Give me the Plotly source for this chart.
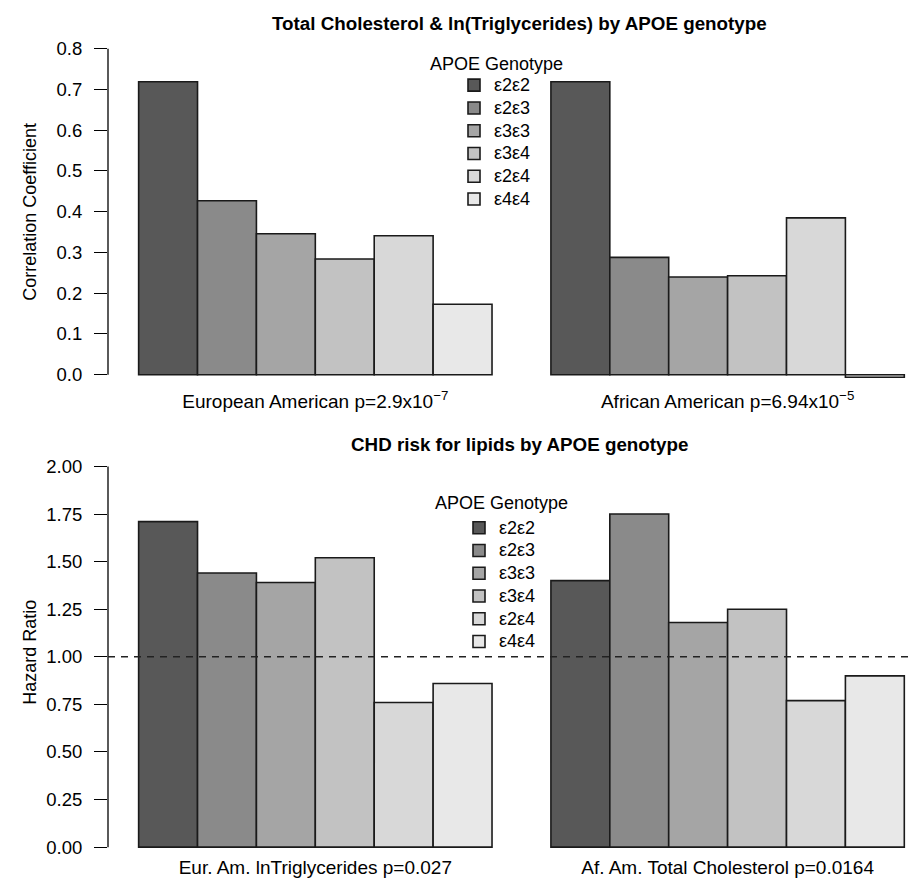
import plotly.graph_objects as go

# ---------------- data ----------------
genotypes = ["ε2ε2", "ε2ε3", "ε3ε3", "ε3ε4", "ε2ε4", "ε4ε4"]
bar_colors = ["#585858", "#8a8a8a", "#a5a5a5", "#c2c2c2", "#d8d8d8", "#e8e8e8"]

top_title = "Total Cholesterol & ln(Triglycerides) by APOE genotype"
top_groups = ["European American p=2.9x10<sup>−7</sup>",
              "African American p=6.94x10<sup>−5</sup>"]
top_eur = [0.719, 0.427, 0.346, 0.284, 0.341, 0.173]
top_afr = [0.719, 0.288, 0.240, 0.243, 0.385, -0.006]
top_ticks = [0.0, 0.1, 0.2, 0.3, 0.4, 0.5, 0.6, 0.7, 0.8]
top_ylabel = "Correlation Coefficient"

bot_title = "CHD risk for lipids by APOE genotype"
bot_groups = ["Eur. Am. lnTriglycerides p=0.027",
              "Af. Am. Total Cholesterol p=0.0164"]
bot_eur = [1.71, 1.44, 1.39, 1.52, 0.76, 0.86]
bot_afr = [1.40, 1.75, 1.18, 1.25, 0.77, 0.90]
bot_ticks = [0.0, 0.25, 0.5, 0.75, 1.0, 1.25, 1.5, 1.75, 2.0]
bot_ylabel = "Hazard Ratio"
hr_reference = 1.0

legend_title = "APOE Genotype"

# ---------------- figure ----------------
W, H = 918, 889
FONT = "Liberation Sans, Arial, Helvetica, sans-serif"
LEG_TXT = 18      # visible legend text size
LEG_ROW = 15.2    # size that sets legend row spacing

fig = go.Figure()
for i, g in enumerate(genotypes):
    fig.add_trace(go.Bar(
        x=top_groups, y=[top_eur[i], top_afr[i]],
        name=f'<span style="font-size:{LEG_TXT}px">{g}</span>',
        marker=dict(color=bar_colors[i], line=dict(color="#1a1a1a", width=1.6)),
        xaxis="x", yaxis="y", legend="legend", hoverinfo="x+y"))
for i, g in enumerate(genotypes):
    fig.add_trace(go.Bar(
        x=bot_groups, y=[bot_eur[i], bot_afr[i]],
        name=f'<span style="font-size:{LEG_TXT}px">{g}</span>',
        marker=dict(color=bar_colors[i], line=dict(color="#1a1a1a", width=1.6)),
        xaxis="x2", yaxis="y2", legend="legend2", hoverinfo="x+y"))

x_dom = [100 / W, 1.0]
x_rng = [-0.50286, 1.4812]
# pixel geometry (from top edge)
top_px = dict(zero=368.0, unit=409.0, top=27.7, bottom=381.1)
bot_px = dict(zero=842.0, unit=191.0, top=444.7, bottom=849.0)

def dom_rng(p):
    lo = -(p["bottom"] - p["zero"]) / p["unit"]
    hi = (p["zero"] - p["top"]) / p["unit"]
    return [1 - p["bottom"] / H, 1 - p["top"] / H], [lo, hi]

top_dom, top_rng = dom_rng(top_px)
bot_dom, bot_rng = dom_rng(bot_px)

common = dict(showgrid=False, zeroline=False, showline=False)
ytick = dict(ticks="outside", ticklen=13, tickwidth=1.3, tickcolor="black",
             ticklabelstandoff=8, tickfont=dict(size=18.5, color="black", family=FONT))
xtick = dict(ticks="", tickfont=dict(size=19, color="black", family=FONT))

fig.update_layout(
    width=W, height=H,
    margin=dict(l=0, r=0, t=0, b=0),
    paper_bgcolor="white", plot_bgcolor="white",
    font=dict(family=FONT, color="black"),
    barmode="group", bargap=1 / 7, bargroupgap=0,
    xaxis=dict(domain=x_dom, range=x_rng, anchor="y", **common, **xtick),
    xaxis2=dict(domain=x_dom, range=x_rng, anchor="y2", **common, **xtick),
    yaxis=dict(domain=top_dom, range=top_rng, anchor="x",
               tickvals=top_ticks, ticktext=[f"{v:.1f}" for v in top_ticks],
               **common, **ytick),
    yaxis2=dict(domain=bot_dom, range=bot_rng, anchor="x2",
                tickvals=bot_ticks, ticktext=[f"{v:.2f}" for v in bot_ticks],
                **common, **ytick),
    legend=dict(x=446 / W, xanchor="left", y=1 - 61 / H, yanchor="top",
                bgcolor="rgba(0,0,0,0)", font=dict(size=LEG_ROW, family=FONT),
                tracegroupgap=0),
    legend2=dict(x=451 / W, xanchor="left", y=1 - 505 / H, yanchor="top",
                 bgcolor="rgba(0,0,0,0)", font=dict(size=LEG_ROW, family=FONT),
                 tracegroupgap=0),
    showlegend=True,
)

# y axis lines spanning first to last tick (R style)
fig.add_shape(type="line", xref="x domain", yref="y", x0=0, x1=0,
              y0=top_ticks[0], y1=top_ticks[-1], line=dict(color="black", width=1.3))
fig.add_shape(type="line", xref="x2 domain", yref="y2", x0=0, x1=0,
              y0=bot_ticks[0], y1=bot_ticks[-1], line=dict(color="black", width=1.3))
# reference line HR = 1
fig.add_shape(type="line", xref="x2 domain", yref="y2", x0=0, x1=1,
              y0=hr_reference, y1=hr_reference,
              line=dict(color="#222222", width=1.5, dash="7px,6px"))

# titles
fig.add_annotation(text=f"<b>{top_title}</b>", xref="paper", yref="paper",
                   x=511 / W, y=1 - 16 / H, showarrow=False,
                   font=dict(size=18.8, family=FONT), xanchor="center", yanchor="middle")
fig.add_annotation(text=f"<b>{bot_title}</b>", xref="paper", yref="paper",
                   x=511 / W, y=1 - 438 / H, showarrow=False,
                   font=dict(size=18.8, family=FONT), xanchor="center", yanchor="middle")
# legend titles
fig.add_annotation(text=legend_title, xref="paper", yref="paper",
                   x=488 / W, y=1 - 56 / H, showarrow=False,
                   font=dict(size=18, family=FONT), xanchor="center", yanchor="middle")
fig.add_annotation(text=legend_title, xref="paper", yref="paper",
                   x=493 / W, y=1 - 497 / H, showarrow=False,
                   font=dict(size=18, family=FONT), xanchor="center", yanchor="middle")
# y labels
fig.add_annotation(text=top_ylabel, xref="paper", yref="y domain", x=22 / W, y=0.5,
                   textangle=-90, showarrow=False, font=dict(size=18, family=FONT),
                   xanchor="center", yanchor="middle")
fig.add_annotation(text=bot_ylabel, xref="paper", yref="y2 domain", x=22 / W, y=0.5,
                   textangle=-90, showarrow=False, font=dict(size=18, family=FONT),
                   xanchor="center", yanchor="middle")

fig.write_html("out.html")
